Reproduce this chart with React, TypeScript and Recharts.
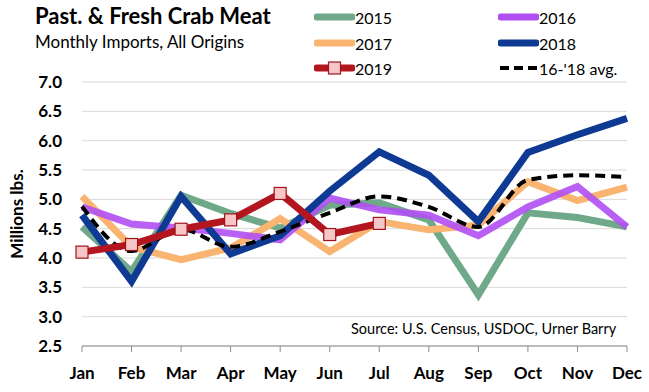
import React from 'react'
import { LineChart, Line, XAxis, YAxis, CartesianGrid } from 'recharts'

const months = ['Jan', 'Feb', 'Mar', 'Apr', 'May', 'Jun', 'Jul', 'Aug', 'Sep', 'Oct', 'Nov', 'Dec']
const y2015 = [4.53, 3.77, 5.07, 4.76, 4.51, 4.9, 4.94, 4.65, 3.37, 4.77, 4.69, 4.53]
const y2016 = [4.87, 4.58, 4.51, 4.42, 4.31, 5.02, 4.82, 4.73, 4.38, 4.87, 5.22, 4.53]
const y2017 = [5.05, 4.19, 3.97, 4.17, 4.67, 4.11, 4.62, 4.48, 4.56, 5.3, 4.98, 5.21]
const y2018 = [4.73, 3.6, 5.05, 4.07, 4.38, 5.14, 5.81, 5.41, 4.62, 5.8, 6.1, 6.38]
const y2019 = [4.1, 4.23, 4.49, 4.65, 5.1, 4.4, 4.59]
const avg1618 = [4.88, 4.12, 4.49, 4.19, 4.45, 4.77, 5.05, 4.87, 4.53, 5.33, 5.41, 5.38]
const yTicks = [2.5, 3, 3.5, 4, 4.5, 5, 5.5, 6, 6.5, 7]

const data = months.map((m, i) => ({
  month: m,
  y2015: y2015[i],
  y2016: y2016[i],
  y2017: y2017[i],
  y2018: y2018[i],
  y2019: y2019[i],
  avg: avg1618[i],
}))

const FONT = 'Lato, "Open Sans", sans-serif'

const legendItems = [
  { name: '2015', color: '#6fa98a', x: 314, y: 17 },
  { name: '2016', color: '#b14ff3', x: 498, y: 17 },
  { name: '2017', color: '#f9b471', x: 314, y: 43 },
  { name: '2018', color: '#0f3a94', x: 498, y: 43 },
  { name: '2019', color: '#b3161e', x: 314, y: 68, marker: true },
  { name: "16-'18 avg.", color: '#000', x: 498, y: 68, dashed: true },
]

function Square(props: any) {
  const { cx, cy } = props
  if (cx == null || cy == null) return null
  return <rect x={cx - 6} y={cy - 6} width={12} height={12} fill="#f7c6c6" stroke="#a0141b" strokeWidth={1.2} />
}

function LegendBlock() {
  return (
    <>
      {legendItems.map((it) => (
        <div key={it.name} style={{ position: 'absolute', left: it.x, top: it.y - 12, height: 24, display: 'flex', alignItems: 'center' }}>
          <svg width={41} height={24}>
            {it.dashed ? (
              <line x1={2} x2={39} y1={12} y2={12} stroke="#000" strokeWidth={4} strokeDasharray="9 5" />
            ) : (
              <line x1={3} x2={38} y1={12} y2={12} stroke={it.color} strokeWidth={7} strokeLinecap="round" />
            )}
            {it.marker && <rect x={14.5} y={6} width={12} height={12} fill="#f7c6c6" stroke="#a0141b" strokeWidth={1.2} />}
          </svg>
          <span style={{ fontFamily: FONT, fontSize: 16, color: '#000' }}>{it.name}</span>
        </div>
      ))}
    </>
  )
}

export default function App() {
  return (
    <div style={{ position: 'absolute', left: 0, top: 0, width: 649, height: 392, background: '#fff', overflow: 'hidden' }}>
      <div style={{ position: 'absolute', left: 35, top: 2, fontFamily: FONT, fontWeight: 700, fontSize: 22, color: '#000', whiteSpace: 'nowrap' }}>
        Past. &amp; Fresh Crab Meat
      </div>
      <div style={{ position: 'absolute', left: 35, top: 31, fontFamily: FONT, fontSize: 17, color: '#000', whiteSpace: 'nowrap' }}>
        Monthly Imports, All Origins
      </div>
      <LegendBlock />
      <div
        style={{
          position: 'absolute', left: 16, top: 214, transform: 'translate(-50%, -50%) rotate(-90deg)',
          fontFamily: FONT, fontWeight: 700, fontSize: 17, whiteSpace: 'nowrap', color: '#000',
        }}
      >
        Millions lbs.
      </div>
      <div style={{ position: 'absolute', left: 351, top: 320, fontFamily: FONT, fontSize: 14.5, color: '#000', whiteSpace: 'nowrap' }}>
        Source: U.S. Census, USDOC, Urner Barry
      </div>
      <LineChart width={649} height={392} data={data} margin={{ top: 82, right: 22, left: 0, bottom: 0 }} style={{ position: 'absolute', left: 0, top: 0 }}>
        <CartesianGrid vertical={false} stroke="#d9d9d9" strokeWidth={1} />
        <XAxis
          dataKey="month"
          height={46}
          padding={{ left: 0, right: 0 }}
          axisLine={{ stroke: '#8c8c8c' }}
          tickLine={{ stroke: '#8c8c8c' }}
          tickSize={6}
          tickMargin={15}
          interval={0}
          tick={{ fontFamily: FONT, fontWeight: 700, fontSize: 17, fill: '#000' }}
        />
        <YAxis
          width={82}
          domain={[2.5, 7]}
          ticks={yTicks}
          interval={0}
          axisLine={false}
          tickLine={false}
          tickSize={0}
          tickMargin={20}
          tickFormatter={(v: number) => v.toFixed(1)}
          tick={{ fontFamily: FONT, fontWeight: 700, fontSize: 17, fill: '#000' }}
        />
        <Line dataKey="y2015" stroke="#6fa98a" strokeWidth={7} dot={false} isAnimationActive={false} />
        <Line dataKey="y2017" stroke="#f9b471" strokeWidth={7} dot={false} isAnimationActive={false} />
        <Line dataKey="y2016" stroke="#b14ff3" strokeWidth={7} strokeOpacity={0.9} dot={false} isAnimationActive={false} />
        <Line dataKey="y2018" stroke="#0f3a94" strokeWidth={7} dot={false} isAnimationActive={false} />
        <Line dataKey="avg" type="monotone" stroke="#000" strokeWidth={4} strokeDasharray="10 6" dot={false} isAnimationActive={false} />
        <Line dataKey="y2019" stroke="#b3161e" strokeWidth={7} dot={<Square />} activeDot={false} isAnimationActive={false} />
      </LineChart>
    </div>
  )
}
